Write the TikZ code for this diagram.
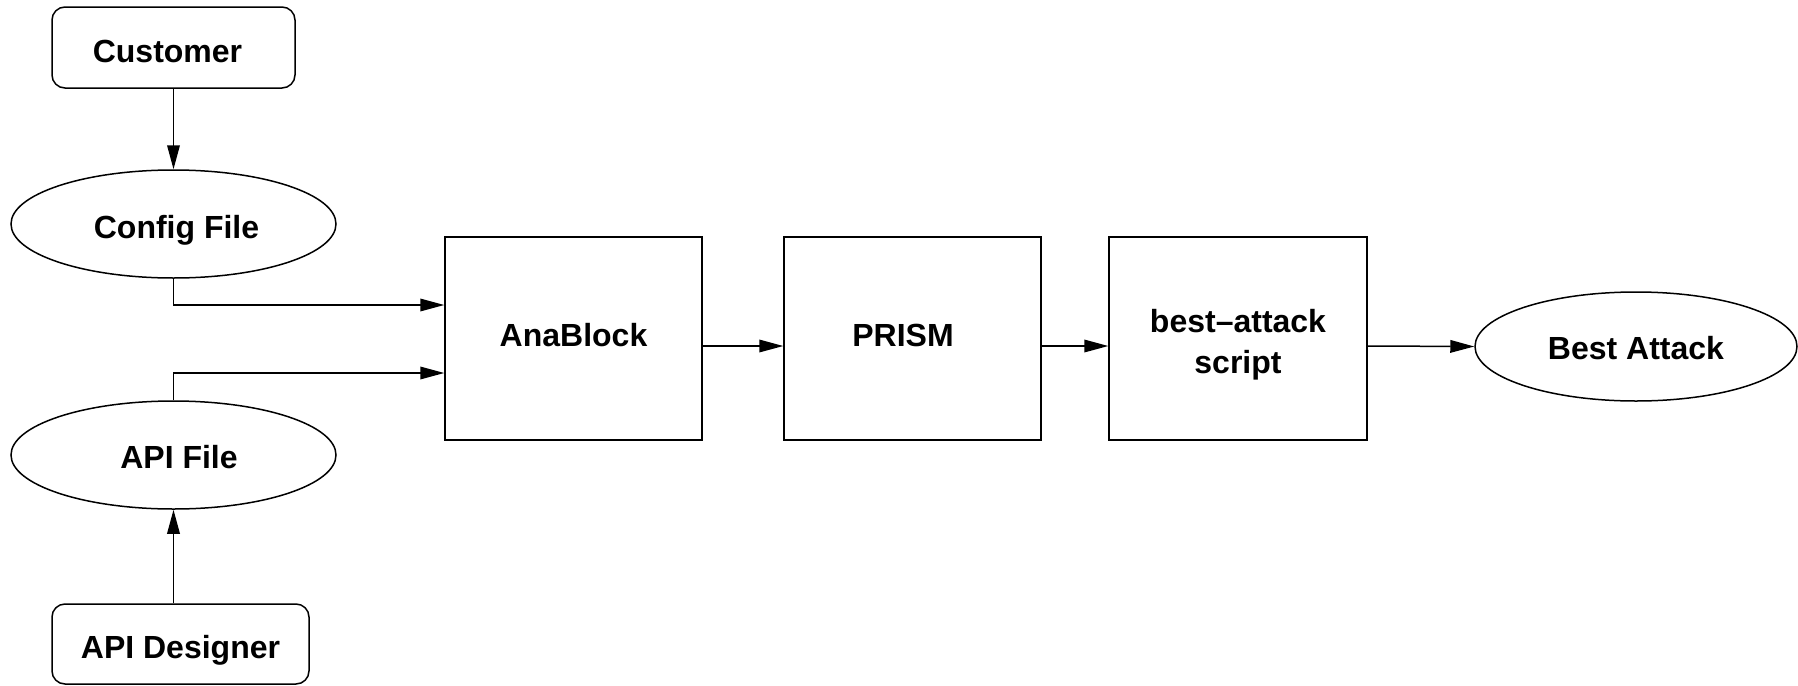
\documentclass[tikz,border=0pt]{standalone}
\usepackage{fontspec}
\setmainfont{Liberation Sans}
\usetikzlibrary{arrows.meta,calc,shapes.geometric}
\begin{document}
\begin{tikzpicture}[x=0.5pt,y=-0.5pt,
  every node/.style={font=\fontsize{16}{20.5}\selectfont\bfseries, inner sep=0pt, line width=0.75pt, text depth=0pt},
  rbox/.style={draw, rounded corners=6.5pt},
  sbox/.style={draw, rectangle},
  ell/.style={draw, ellipse},
  arr/.style={line width=0.75pt, -{Triangle[length=12pt,width=6.3pt]}}]
\useasboundingbox[fill=white] (0,0) rectangle (1798,685);
\node[rbox, minimum width=121.5pt, minimum height=40.5pt, text height=14.7pt] (cust) at (173.5,47.5) {\hspace*{-6pt}Customer};
\node[ell, minimum width=162.5pt, minimum height=54pt, text height=14.2pt] (config) at (173.5,224) {Config File\hspace*{-3pt}};
\node[ell, minimum width=162.5pt, minimum height=54pt, text height=13.7pt] (apifile) at (173.5,455) {API File\hspace*{-5.5pt}};
\node[rbox, minimum width=128.5pt, minimum height=40pt, text height=14.2pt] (apides) at (180.5,644) {API Designer};
\node[sbox, minimum width=128.5pt, minimum height=101.5pt, text height=7.7pt] (ana) at (573.5,338.5) {AnaBlock};
\node[sbox, minimum width=128.5pt, minimum height=101.5pt, text height=7.7pt] (prism) at (912.5,338.5) {\hspace*{-9.5pt}PRISM};
\node[sbox, minimum width=129pt, minimum height=101.5pt, text height=0pt] (best) at (1238,338.5)
  {\raisebox{-7.4pt}[0pt][0pt]{\begin{tabular}{@{}c@{}}best\textendash attack\\script\end{tabular}}};
\node[ell, minimum width=161pt, minimum height=54.5pt, text height=13.2pt] (battack) at (1636,346.5) {Best Attack};
\draw[arr] (cust.south) -- (config.north);
\draw[arr] (apides.north -| apifile.center) -- (apifile.south);
\draw[arr] (config.south) |- ($(ana.west)+(0,-33.5)$);
\draw[arr] (apifile.north) |- ($(ana.west)+(0,34.5)$);
\draw[arr] ([yshift=-3.75pt]ana.east) -- ([yshift=-3.75pt]prism.west);
\draw[arr] ([yshift=-3.75pt]prism.east) -- ([yshift=-3.75pt]best.west);
\draw[arr] ([yshift=-3.75pt]best.east) -- (battack.west);
\end{tikzpicture}
\end{document}
